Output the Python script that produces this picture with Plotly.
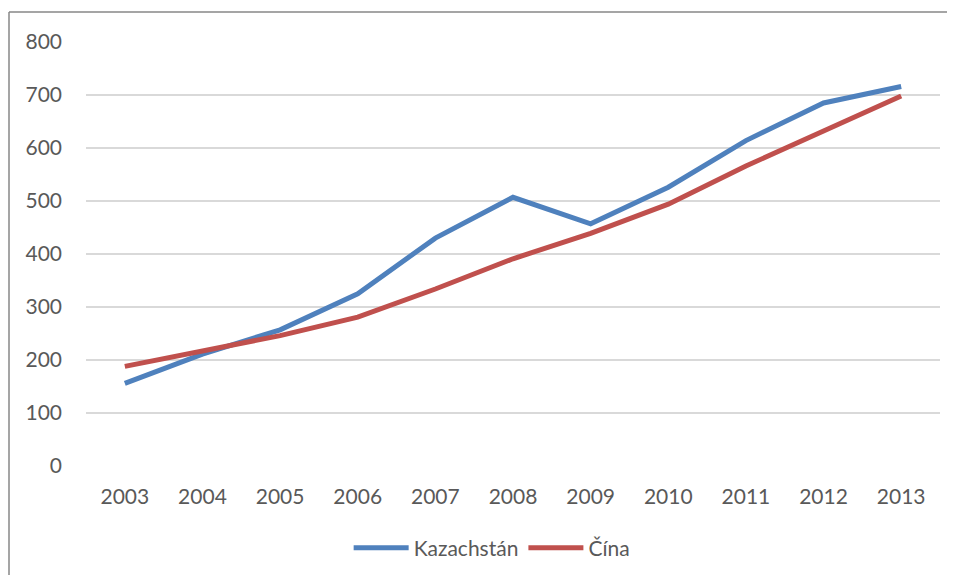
import plotly.graph_objects as go

years = ["2003", "2004", "2005", "2006", "2007", "2008", "2009", "2010", "2011", "2012", "2013"]
kazachstan = [156, 211, 257, 325, 430, 507, 457, 526, 614, 685, 716]
cina = [188, 216, 246, 281, 334, 391, 439, 494, 566, 632, 698]

# the page body has 8px margins, so the figure is sized to fit inside them
W, H = 939, 567
L, R, T, B = 78, 7, 34, 109
pw, ph = W - L - R, H - T - B

fig = go.Figure()
fig.add_trace(go.Scatter(x=years, y=kazachstan, name="Kazachstán", mode="lines",
                         line=dict(color="#4F81BD", width=5)))
fig.add_trace(go.Scatter(x=years, y=cina, name="Čína", mode="lines",
                         line=dict(color="#C0504D", width=5)))

# outer chart frame: only left and top edges are inside the window
frame = dict(color="#878787", width=1.5)
fx0, fy1 = (1 - L) / pw, (H - B - 4) / ph
fig.add_shape(type="line", xref="paper", yref="paper", x0=fx0, x1=fx0,
              y0=-B / ph, y1=fy1, line=frame, layer="below")
fig.add_shape(type="line", xref="paper", yref="paper", x0=fx0, x1=(W - L) / pw,
              y0=fy1, y1=fy1, line=frame, layer="below")

fig.update_layout(
    width=W, height=H,
    margin=dict(l=L, r=R, t=T, b=B, autoexpand=False),
    paper_bgcolor="white", plot_bgcolor="white",
    font=dict(family="Lato, Open Sans, sans-serif", size=21, color="#595959"),
    showlegend=True,
    legend=dict(orientation="h", x=0.475, xanchor="center", y=-0.145, yanchor="top",
                font=dict(size=21, color="#595959"), itemwidth=55),
    xaxis=dict(type="category", range=[-0.5, len(years) - 0.5], showgrid=False,
               showline=False, ticks="", tickfont=dict(size=21), ticklabelstandoff=16),
    yaxis=dict(range=[0, 800], dtick=100, showgrid=True, gridcolor="#D9D9D9",
               gridwidth=1.5, zeroline=False, showline=False, ticks="",
               tickfont=dict(size=21), ticklabelstandoff=23),
)

fig.write_html("out.html")
